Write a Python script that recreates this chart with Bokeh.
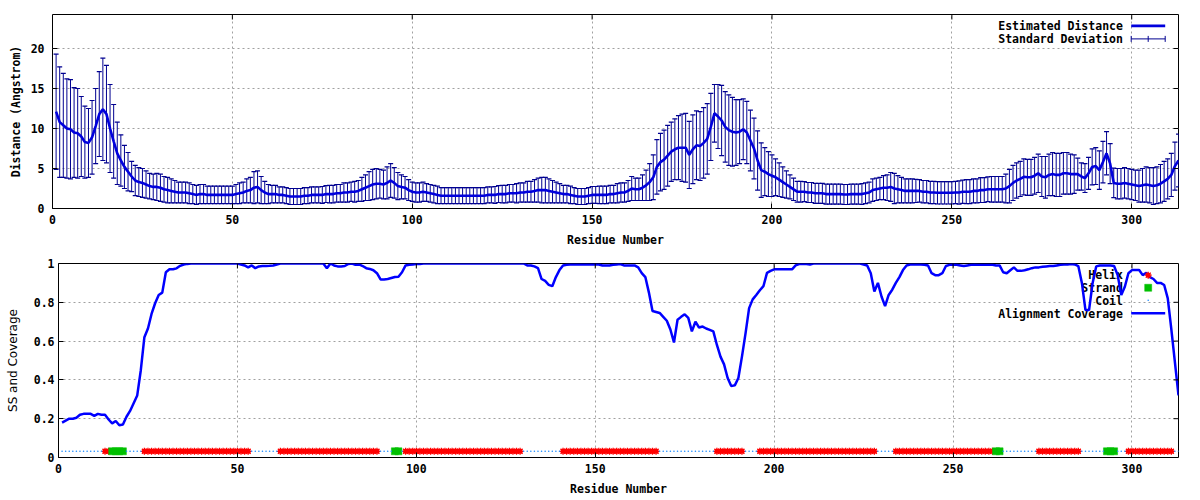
import numpy as np
from bokeh.plotting import figure
from bokeh.models import Range1d, FixedTicker, Label, Arrow
from bokeh.embed import file_html
from bokeh.resources import INLINE

# ---------------- data ----------------
RESIDUES = list(range(1, 314))

MEAN_DIST = [
    12.1, 10.8, 10.4, 10.0, 9.9, 9.5, 9.4, 9.0, 8.3, 8.2,
    8.9, 10.3, 11.8, 12.4, 11.8, 10.0, 8.4, 6.9, 6.0, 5.2,
    4.6, 4.0, 3.5, 3.3, 3.2, 3.0, 2.8, 2.7, 2.7, 2.6,
    2.4, 2.3, 2.2, 2.1, 2.0, 2.0, 2.0, 1.9, 1.8, 1.7,
    1.8, 1.8, 1.7, 1.7, 1.7, 1.7, 1.7, 1.7, 1.7, 1.7,
    1.8, 1.9, 2.0, 2.2, 2.3, 2.6, 2.7, 2.3, 2.0, 1.8,
    1.8, 1.8, 1.7, 1.7, 1.6, 1.5, 1.5, 1.5, 1.5, 1.6,
    1.6, 1.7, 1.7, 1.7, 1.7, 1.8, 1.8, 1.8, 1.9, 1.9,
    2.0, 2.0, 2.1, 2.1, 2.2, 2.4, 2.6, 2.8, 3.0, 3.1,
    3.1, 3.0, 3.2, 3.5, 3.2, 2.8, 2.7, 2.6, 2.3, 2.1,
    2.0, 2.0, 2.1, 2.0, 1.9, 1.8, 1.7, 1.6, 1.6, 1.6,
    1.6, 1.6, 1.6, 1.6, 1.6, 1.6, 1.6, 1.6, 1.6, 1.6,
    1.7, 1.7, 1.7, 1.8, 1.8, 1.8, 1.9, 1.9, 1.9, 2.0,
    2.0, 2.1, 2.1, 2.2, 2.3, 2.3, 2.3, 2.2, 2.1, 2.0,
    1.9, 1.8, 1.8, 1.7, 1.6, 1.5, 1.5, 1.5, 1.6, 1.7,
    1.7, 1.7, 1.7, 1.7, 1.8, 1.8, 1.9, 2.0, 2.0, 2.2,
    2.5, 2.4, 2.4, 2.6, 2.9, 3.3, 3.9, 5.2, 5.8, 6.1,
    6.6, 7.1, 7.4, 7.6, 7.6, 7.6, 6.7, 7.4, 7.9, 7.8,
    8.2, 8.7, 10.2, 11.9, 11.5, 11.0, 10.2, 9.8, 9.6, 9.5,
    9.6, 9.9, 9.5, 8.5, 7.5, 6.0, 4.8, 4.6, 4.3, 4.1,
    3.9, 3.6, 3.3, 3.0, 2.7, 2.4, 2.1, 2.1, 2.1, 2.0,
    2.0, 1.9, 1.9, 1.9, 1.8, 1.8, 1.8, 1.8, 1.8, 1.75,
    1.75, 1.8, 1.8, 1.8, 1.8, 1.9, 2.0, 2.3, 2.4, 2.5,
    2.6, 2.6, 2.7, 2.5, 2.4, 2.3, 2.2, 2.2, 2.2, 2.2,
    2.2, 2.1, 2.1, 2.0, 2.0, 1.96, 1.96, 1.96, 1.96, 1.96,
    2.0, 2.0, 2.1, 2.1, 2.1, 2.2, 2.2, 2.3, 2.3, 2.4,
    2.4, 2.4, 2.4, 2.4, 2.5, 2.8, 3.2, 3.5, 3.7, 3.96,
    3.9, 3.9, 4.1, 4.4, 4.0, 3.9, 4.2, 4.3, 4.2, 4.2,
    4.4, 4.4, 4.3, 4.3, 4.3, 4.0, 3.8, 4.4, 5.2, 5.3,
    4.8, 5.8, 6.9, 5.6, 3.2, 3.1, 3.1, 3.2, 3.1, 3.0,
    2.9, 2.8, 2.9, 3.0, 2.9, 2.8, 2.9, 3.1, 3.4, 3.7,
    4.2, 5.3, 6.0,
]

STD_DEV = [
    7.2, 6.9, 6.5, 6.2, 6.2, 5.6, 5.6, 5.0, 4.5, 4.3,
    4.6, 4.7, 5.3, 6.4, 6.1, 5.5, 4.6, 3.9, 3.2, 2.7,
    2.4, 1.9, 1.9, 1.8, 1.8, 1.7, 1.6, 1.6, 1.7, 1.7,
    1.6, 1.6, 1.5, 1.4, 1.3, 1.3, 1.3, 1.3, 1.2, 1.2,
    1.2, 1.2, 1.1, 1.1, 1.1, 1.1, 1.1, 1.1, 1.1, 1.1,
    1.2, 1.3, 1.3, 1.5, 1.6, 2.0, 2.0, 1.7, 1.4, 1.2,
    1.1, 1.1, 1.0, 1.0, 1.0, 1.0, 1.0, 1.0, 1.0, 1.0,
    1.0, 1.0, 1.0, 1.0, 1.05, 1.05, 1.1, 1.1, 1.1, 1.1,
    1.2, 1.2, 1.2, 1.3, 1.3, 1.5, 1.6, 1.8, 1.9, 1.9,
    1.8, 1.8, 2.0, 2.1, 1.9, 1.7, 1.5, 1.4, 1.3, 1.2,
    1.2, 1.2, 1.2, 1.1, 1.1, 1.1, 1.1, 1.0, 1.0, 1.0,
    1.0, 1.0, 1.0, 1.0, 1.0, 1.0, 1.0, 1.0, 1.0, 1.0,
    1.0, 1.0, 1.05, 1.05, 1.1, 1.1, 1.1, 1.1, 1.2, 1.2,
    1.2, 1.3, 1.3, 1.4, 1.5, 1.6, 1.6, 1.5, 1.4, 1.3,
    1.2, 1.1, 1.1, 1.1, 1.0, 1.0, 1.0, 1.0, 1.0, 1.05,
    1.05, 1.1, 1.1, 1.1, 1.1, 1.1, 1.2, 1.2, 1.2, 1.3,
    1.5, 1.4, 1.4, 1.6, 1.9, 2.3, 2.8, 3.4, 3.6, 3.7,
    3.8, 3.7, 3.8, 4.0, 4.2, 4.3, 4.2, 4.3, 4.3, 4.3,
    4.4, 4.4, 4.2, 3.6, 4.0, 4.4, 4.4, 4.4, 4.3, 4.1,
    4.0, 3.8, 3.9, 3.8, 3.8, 3.7, 3.4, 3.0, 2.8, 2.6,
    2.3, 2.1, 1.9, 1.7, 1.5, 1.4, 1.3, 1.3, 1.25, 1.25,
    1.25, 1.25, 1.25, 1.25, 1.25, 1.25, 1.25, 1.25, 1.25, 1.25,
    1.25, 1.25, 1.25, 1.25, 1.3, 1.3, 1.3, 1.4, 1.4, 1.4,
    1.5, 1.6, 1.8, 1.9, 1.7, 1.6, 1.5, 1.5, 1.5, 1.45,
    1.4, 1.4, 1.4, 1.4, 1.4, 1.4, 1.4, 1.4, 1.4, 1.4,
    1.4, 1.45, 1.45, 1.5, 1.5, 1.5, 1.5, 1.55, 1.55, 1.55,
    1.6, 1.6, 1.6, 1.6, 1.8, 2.1, 2.2, 2.2, 2.2, 2.25,
    2.25, 2.25, 2.3, 2.4, 2.5, 2.6, 2.6, 2.7, 2.7, 2.7,
    2.6, 2.6, 2.5, 2.4, 2.0, 1.7, 1.8, 2.0, 2.25, 2.3,
    2.4, 2.6, 2.7, 2.5, 1.85, 1.9, 1.9, 1.9, 1.9, 1.9,
    1.9, 2.0, 2.1, 2.2, 2.2, 2.3, 2.3, 2.4, 2.5, 2.5,
    2.7, 3.0, 3.3,
]

COVERAGE = [
    0.18, 0.19, 0.20, 0.20, 0.205, 0.22, 0.225, 0.225, 0.225, 0.215,
    0.225, 0.22, 0.22, 0.196, 0.176, 0.188, 0.166, 0.17, 0.21, 0.24,
    0.28, 0.32, 0.45, 0.62, 0.665, 0.74, 0.795, 0.838, 0.85, 0.955,
    0.97, 0.97, 0.975, 0.988, 0.995, 0.998, 1.0, 1.0, 1.0, 1.0,
    1.0, 1.0, 1.0, 1.0, 1.0, 1.0, 1.0, 1.0, 1.0, 1.0,
    0.995, 0.99, 0.98, 0.99, 0.976, 0.985, 0.987, 0.987, 0.988, 0.99,
    0.995, 1.0, 1.0, 1.0, 1.0, 1.0, 1.0, 1.0, 1.0, 1.0,
    1.0, 1.0, 1.0, 1.0, 0.975, 1.0, 0.99, 0.985, 0.985, 0.987,
    0.998, 1.0, 0.993, 0.995, 0.987, 0.976, 0.972, 0.965, 0.95, 0.918,
    0.918, 0.92, 0.925, 0.93, 0.932, 0.955, 0.99, 0.993, 0.995, 0.997,
    0.998, 1.0, 1.0, 1.0, 1.0, 1.0, 1.0, 1.0, 1.0, 1.0,
    1.0, 1.0, 1.0, 1.0, 1.0, 1.0, 1.0, 1.0, 1.0, 1.0,
    1.0, 1.0, 1.0, 1.0, 1.0, 1.0, 1.0, 1.0, 1.0, 1.0,
    0.99, 0.99, 0.985, 0.976, 0.92, 0.91, 0.89, 0.883, 0.93, 0.966,
    0.99, 0.993, 0.995, 0.995, 0.995, 0.995, 0.995, 0.995, 0.995, 0.995,
    0.995, 0.99, 0.99, 0.99, 0.993, 0.995, 0.997, 0.99, 0.99, 0.99,
    0.99, 0.98, 0.95, 0.93, 0.85, 0.755, 0.75, 0.745, 0.725, 0.705,
    0.66, 0.593, 0.71, 0.725, 0.738, 0.72, 0.65, 0.7, 0.67, 0.675,
    0.665, 0.658, 0.65, 0.58, 0.52, 0.48, 0.41, 0.368, 0.372, 0.41,
    0.52, 0.64, 0.77, 0.815, 0.838, 0.862, 0.883, 0.952, 0.962, 0.97,
    0.97, 0.97, 0.97, 0.97, 0.97, 0.99, 0.997, 0.997, 0.997, 0.995,
    1.0, 1.0, 1.0, 1.0, 1.0, 1.0, 1.0, 1.0, 1.0, 1.0,
    1.0, 1.0, 1.0, 1.0, 0.995, 0.99, 0.95, 0.856, 0.9, 0.83,
    0.78, 0.838, 0.865, 0.9, 0.93, 0.966, 0.99, 0.995, 0.995, 0.995,
    0.995, 0.993, 0.99, 0.95, 0.94, 0.94, 0.95, 0.987, 0.993, 0.995,
    0.993, 0.99, 0.987, 0.99, 0.993, 0.995, 0.993, 0.993, 0.993, 0.993,
    0.993, 0.99, 0.99, 0.955, 0.95, 0.965, 0.98, 0.962, 0.962, 0.965,
    0.97, 0.976, 0.98, 0.98, 0.983, 0.985, 0.987, 0.987, 0.99, 0.993,
    0.995, 0.995, 0.997, 0.995, 0.987, 0.9, 0.76, 0.76, 0.9, 0.985,
    0.99, 0.99, 0.99, 0.99, 0.987, 0.94, 0.838, 0.88, 0.95, 0.966,
    0.966, 0.966, 0.94, 0.952, 0.93, 0.92, 0.9, 0.9, 0.889, 0.82,
    0.66, 0.49, 0.32,
]

# secondary structure: (state, run length); H helix, E strand, C coil
SS_SEGMENTS = [
    ("C", 12), ("H", 2), ("E", 4), ("C", 5), ("H", 30), ("C", 8), ("H", 28),
    ("C", 4), ("E", 2), ("C", 1), ("H", 33), ("C", 11), ("H", 27), ("C", 16),
    ("H", 8), ("C", 4), ("H", 33), ("C", 5), ("H", 28), ("E", 2), ("C", 10),
    ("H", 12), ("C", 7), ("E", 3), ("C", 3), ("H", 13), ("C", 2),
]
SS_LEVEL = 0.032

X_TICKS = [0, 50, 100, 150, 200, 250, 300]
DIST_TICKS = [0, 5, 10, 15, 20]
COV_TICKS = [0, 0.2, 0.4, 0.6, 0.8, 1]
COV_TICK_LABELS = ["0", "0.2", "0.4", "0.6", "0.8", "1"]

X_RANGE = (0, 313)
DIST_RANGE = (0, 24.25)
COV_RANGE = (0, 1)

# ---------------- style ----------------
MONO = "DejaVu Sans Mono"
FS = "11.5px"
LINE_BLUE = "#0000dd"
BAR_BLUE = "#000090"
COV_BLUE = "#0000ff"
HELIX_RED = "#ff0000"
STRAND_GREEN = "#00c000"
COIL_BLUE = "#1e8cff"
GRID_COLOR = "#a0a0a0"

FIG_W = 1196
P1 = dict(h=250, l=52, r=18, t=14, b=42)
P2 = dict(h=248, l=58, r=18, t=13, b=40)


def make_fig(g, yr):
    p = figure(width=FIG_W, height=g["h"], output_backend="svg",
               toolbar_location=None, x_range=Range1d(*X_RANGE),
               y_range=Range1d(*yr), min_border_left=g["l"],
               min_border_right=g["r"], min_border_top=g["t"],
               min_border_bottom=g["b"])
    p.background_fill_color = "white"
    p.border_fill_color = "white"
    p.outline_line_color = "black"
    p.outline_line_width = 1
    for ax in p.axis:
        ax.axis_line_color = None
        ax.major_tick_in = 5
        ax.major_tick_out = 0
        ax.major_tick_line_color = "black"
        ax.minor_tick_line_color = None
        ax.major_label_text_font = MONO
        ax.major_label_text_font_style = "bold"
        ax.major_label_text_font_size = FS
        ax.major_label_text_color = "black"
        ax.axis_label_text_font = MONO
        ax.axis_label_text_font_style = "bold"
        ax.axis_label_text_font_size = FS
        ax.axis_label_text_color = "black"
    p.xaxis.ticker = FixedTicker(ticks=X_TICKS)
    p.xgrid.ticker = FixedTicker(ticks=X_TICKS)
    for grid in (p.xgrid, p.ygrid):
        grid.grid_line_color = GRID_COLOR
        grid.grid_line_dash = "2 3"
        grid.grid_line_width = 1
    p.xaxis.axis_label = "Residue Number"
    p.xaxis.major_label_standoff = 6
    p.xaxis.axis_label_standoff = 6
    return p


def frame_xy(p, g, dx_right, dy_top):
    """Point given in pixels from the frame's top-right corner -> data units."""
    fw = FIG_W - g["l"] - g["r"]
    fh = g["h"] - g["t"] - g["b"]
    xr, yr = p.x_range, p.y_range
    return (xr.end - dx_right * (xr.end - xr.start) / fw,
            yr.end - dy_top * (yr.end - yr.start) / fh)


def mirror_ticks(p, g, yticks):
    fw = FIG_W - g["l"] - g["r"]
    fh = g["h"] - g["t"] - g["b"]
    xr, yr = p.x_range, p.y_range
    dx = 5 * (xr.end - xr.start) / fw
    dy = 5 * (yr.end - yr.start) / fh
    for t in yticks:
        if yr.start < t < yr.end:
            p.add_layout(Arrow(x_start=xr.end, y_start=t, x_end=xr.end - dx,
                               y_end=t, end=None, line_color="black", line_width=1))
    for t in X_TICKS:
        if xr.start < t < xr.end:
            p.add_layout(Arrow(x_start=t, y_start=yr.end, x_end=t,
                               y_end=yr.end - dy, end=None, line_color="black",
                               line_width=1))


def legend_text(p, txt, dy):
    p.add_layout(Label(x=p.x_range.end, y=p.y_range.end, x_offset=-55.6,
                       y_offset=-dy, text=txt, text_align="right",
                       text_baseline="middle", text_font=MONO,
                       text_font_style="bold", text_font_size=FS,
                       text_color="black", level="underlay"))


def seg(p, g, x0, y0, x1, y1, color, width):
    xs, ys = frame_xy(p, g, x0, y0)
    xe, ye = frame_xy(p, g, x1, y1)
    p.add_layout(Arrow(x_start=xs, y_start=ys, x_end=xe, y_end=ye, end=None,
                       line_color=color, line_width=width))


# ---------------- top panel ----------------
res = np.array(RESIDUES)
mean = np.array(MEAN_DIST)
sd = np.array(STD_DEV)
lower = mean - sd
upper = mean + sd

p1 = make_fig(P1, DIST_RANGE)
p1.yaxis.ticker = FixedTicker(ticks=DIST_TICKS)
p1.ygrid.ticker = FixedTicker(ticks=DIST_TICKS)
p1.yaxis.axis_label = "Distance (Angstrom)"
p1.yaxis.major_label_standoff = 8
p1.yaxis.axis_label_standoff = 5
mirror_ticks(p1, P1, DIST_TICKS)

p1.segment(x0=res, y0=lower, x1=res, y1=upper, line_color=BAR_BLUE, line_width=1)
p1.scatter(res, upper, marker="dash", size=5, line_color=BAR_BLUE, line_width=1.2)
p1.scatter(res, lower, marker="dash", size=5, line_color=BAR_BLUE, line_width=1.2)
p1.line(res, mean, line_color=LINE_BLUE, line_width=2.6)

legend_text(p1, "Estimated Distance", 11.4)
legend_text(p1, "Standard Deviation", 24.4)
seg(p1, P1, 47.3, 11.4, 13.3, 11.4, LINE_BLUE, 2.6)
seg(p1, P1, 47.3, 24.4, 13.3, 24.4, BAR_BLUE, 1)
for dx in (47.3, 30.3, 13.3):
    seg(p1, P1, dx, 21.4, dx, 27.4, BAR_BLUE, 1)

# ---------------- bottom panel ----------------
ss = "".join(s * n for s, n in SS_SEGMENTS)
helix_x = [r for r, s in zip(RESIDUES, ss) if s == "H"]
strand_x = [r for r, s in zip(RESIDUES, ss) if s == "E"]
coil_x = [r for r, s in zip(RESIDUES, ss) if s == "C"]

p2 = make_fig(P2, COV_RANGE)
p2.yaxis.ticker = FixedTicker(ticks=COV_TICKS)
p2.ygrid.ticker = FixedTicker(ticks=COV_TICKS)
p2.yaxis.major_label_overrides = dict(zip(COV_TICKS, COV_TICK_LABELS))
p2.yaxis.axis_label = "SS and Coverage"
p2.yaxis.axis_label_text_font = "DejaVu Sans"
p2.yaxis.axis_label_text_font_style = "normal"
p2.yaxis.axis_label_text_font_size = "12px"
p2.yaxis.major_label_standoff = 4
p2.yaxis.axis_label_standoff = 11
mirror_ticks(p2, P2, COV_TICKS)


def helix_marks(p, xs, ys):
    p.scatter(xs, ys, marker="square", size=4.5, fill_color=HELIX_RED,
              line_color=None)
    p.scatter(xs, ys, marker="asterisk", size=7, line_color=HELIX_RED,
              line_width=1.3)


def strand_marks(p, xs, ys):
    p.scatter(xs, ys, marker="square", size=7, fill_color=STRAND_GREEN,
              line_color=STRAND_GREEN, line_width=0.5)


def coil_marks(p, xs, ys):
    p.scatter(xs, ys, marker="circle", size=1.6, fill_color=COIL_BLUE,
              line_color=None)


helix_marks(p2, helix_x, [SS_LEVEL] * len(helix_x))
strand_marks(p2, strand_x, [SS_LEVEL] * len(strand_x))
coil_marks(p2, coil_x, [SS_LEVEL] * len(coil_x))
p2.line(RESIDUES, COVERAGE, line_color=COV_BLUE, line_width=2.5)

for txt, dy in (("Helix", 11.7), ("Strand", 24.4), ("Coil", 37.0),
                ("Alignment Coverage", 50.0)):
    legend_text(p2, txt, dy)
hx, hy = frame_xy(p2, P2, 30.3, 11.7)
helix_marks(p2, [hx], [hy])
sx, sy = frame_xy(p2, P2, 30.3, 24.4)
strand_marks(p2, [sx], [sy])
cx, cy = frame_xy(p2, P2, 30.3, 37.0)
coil_marks(p2, [cx], [cy])
seg(p2, P2, 47.3, 50.0, 13.3, 50.0, COV_BLUE, 2.5)

# two independent roots, stacked: each panel keeps its own frame position
open("out.html", "w").write(file_html([p1, p2], INLINE))
